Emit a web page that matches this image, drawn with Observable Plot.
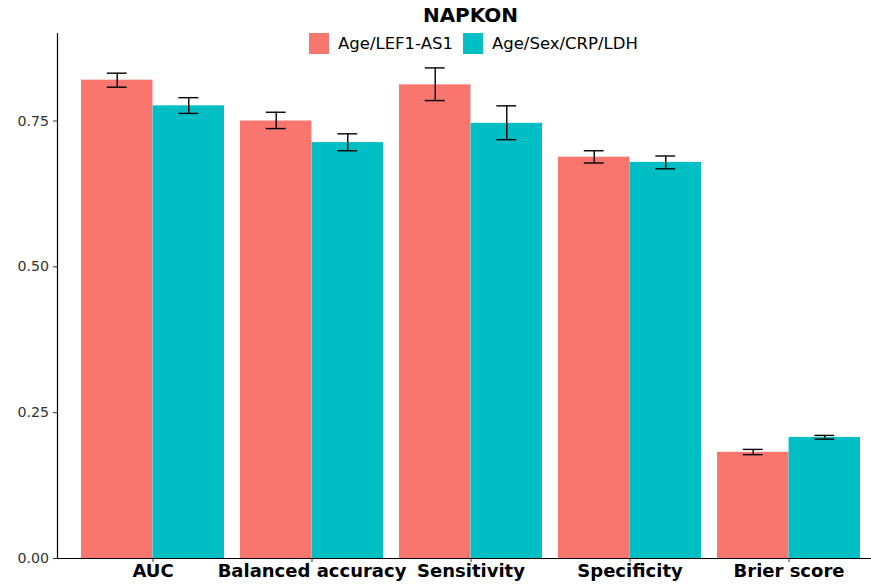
<!DOCTYPE html>
<html>
<head>
<meta charset="utf-8">
<script src="https://cdn.jsdelivr.net/npm/d3@7"></script>
<script src="https://cdn.jsdelivr.net/npm/@observablehq/plot@0.6"></script>
<style>
  html, body { margin: 0; padding: 0; background: #fff; }
  #wrap { position: relative; width: 871px; height: 584px; font-family: "DejaVu Sans", sans-serif; }
  #title { position: absolute; left: 0; width: 941px; top: 3px; text-align: center; font-weight: bold; font-size: 20px; color: #000; }
  #legend { position: absolute; top: 33px; left: 309px; display: flex; align-items: center; font-size: 16.5px; color: #000; }
  .sw { display: inline-block; width: 20px; height: 21px; margin-right: 9px; }
  .item { display: flex; align-items: center; margin-right: 10px; }
  #chart { position: absolute; left: 0; top: 0; }
</style>
</head>
<body>
<div id="wrap">
  <div id="chart"></div>
  <div id="title">NAPKON</div>
  <div id="legend"></div>
</div>
<script>
const metrics = ["AUC", "Balanced accuracy", "Sensitivity", "Specificity", "Brier score"];
const models = ["Age/LEF1-AS1", "Age/Sex/CRP/LDH"];
const colors = ["#F8766D", "#00BFC4"];

const lef1Mean  = [0.820, 0.750, 0.812, 0.688, 0.182];
const lef1Lower = [0.808, 0.737, 0.785, 0.678, 0.178];
const lef1Upper = [0.832, 0.765, 0.841, 0.699, 0.187];

const clinMean  = [0.776, 0.713, 0.746, 0.679, 0.2075];
const clinLower = [0.763, 0.699, 0.718, 0.668, 0.2046];
const clinUpper = [0.790, 0.728, 0.776, 0.690, 0.211];

const yTicks = [0, 0.25, 0.5, 0.75];

const data = [];
metrics.forEach((m, i) => {
  data.push({metric: m, model: models[0], mean: lef1Mean[i], lo: lef1Lower[i], hi: lef1Upper[i]});
  data.push({metric: m, model: models[1], mean: clinMean[i], lo: clinLower[i], hi: clinUpper[i]});
});
const d0 = data.filter(d => d.model === models[0]);
const d1 = data.filter(d => d.model === models[1]);

const xRange = [57, 884];
const band = d3.scaleBand().domain(metrics).range(xRange).paddingInner(0.1).paddingOuter(0.15);
const bw = band.bandwidth();
const capW = 20;
const capInset = (bw - capW) / 2;

const errMarks = (arr, dx) => [
  Plot.ruleX(arr, {x: "metric", y1: "lo", y2: "hi", dx, stroke: "#000", strokeWidth: 1.4}),
  Plot.tickY(arr, {x: "metric", y: "lo", dx, insetLeft: capInset, insetRight: capInset, stroke: "#000", strokeWidth: 1.4}),
  Plot.tickY(arr, {x: "metric", y: "hi", dx, insetLeft: capInset, insetRight: capInset, stroke: "#000", strokeWidth: 1.4})
];

const plot = Plot.plot({
  width: 871,
  height: 584,
  marginLeft: 57,
  marginRight: 0,
  marginTop: 33,
  marginBottom: 26,
  style: {fontFamily: "DejaVu Sans, sans-serif", background: "#fff"},
  x: {domain: metrics, range: xRange, paddingInner: 0.1, paddingOuter: 0.15, label: null, axis: null},
  y: {domain: [0, 0.9], label: null, axis: null},
  color: {domain: models, range: colors},
  marks: [
    Plot.barY(d0, {x: "metric", y: "mean", fill: "model", insetRight: bw / 2}),
    Plot.barY(d1, {x: "metric", y: "mean", fill: "model", insetLeft: bw / 2}),
    ...errMarks(d0, -bw / 4),
    ...errMarks(d1, bw / 4),
    Plot.axisY({ticks: yTicks, tickFormat: d3.format(".2f"), tickSize: 4, tickPadding: 4.5, fontSize: 14.2, color: "#333", stroke: "#333", label: null}),
    Plot.axisX({tickSize: 4, tickPadding: 2, fontSize: 18, fontWeight: "bold", fill: "#000", stroke: "#333", label: null}),
    Plot.frame({anchor: "left", stroke: "#000", strokeWidth: 1.2}),
    Plot.ruleY([0], {stroke: "#000", strokeWidth: 1.2})
  ]
});
document.getElementById("chart").appendChild(plot);

const legend = document.getElementById("legend");
models.forEach((m, i) => {
  const item = document.createElement("span");
  item.className = "item";
  const sw = document.createElement("span");
  sw.className = "sw";
  sw.style.background = colors[i];
  const lab = document.createElement("span");
  lab.textContent = m;
  item.appendChild(sw);
  item.appendChild(lab);
  legend.appendChild(item);
});
</script>
</body>
</html>
